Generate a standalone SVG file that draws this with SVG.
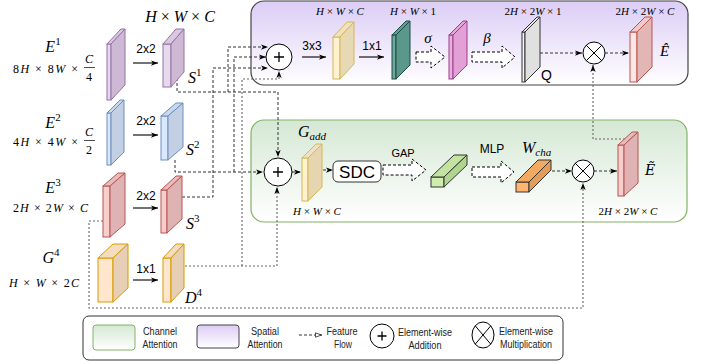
<svg xmlns="http://www.w3.org/2000/svg" width="705" height="364" viewBox="0 0 705 364">
<defs>
<linearGradient id="gP" x1="0" y1="0" x2="0" y2="1"><stop offset="0" stop-color="#dccdf6"/><stop offset="1" stop-color="#ffffff"/></linearGradient>
<linearGradient id="gG" x1="0" y1="0" x2="0" y2="1"><stop offset="0" stop-color="#d5e8d4"/><stop offset="1" stop-color="#ffffff"/></linearGradient>
<marker id="ah" viewBox="0 0 8 6" refX="8" refY="3" markerWidth="7" markerHeight="5.5" orient="auto" markerUnits="userSpaceOnUse"><path d="M0,0 L8,3 L0,6 L2,3 z" fill="#000"/></marker>
<marker id="ao" viewBox="0 0 8 6" refX="8" refY="3" markerWidth="7" markerHeight="5.5" orient="auto" markerUnits="userSpaceOnUse"><path d="M0.5,0.5 L7.5,3 L0.5,5.5 z" fill="#fff" stroke="#000" stroke-width="0.8"/></marker>
</defs>
<style>
.m{font-family:"Liberation Serif","DejaVu Serif",serif;fill:#000}
.i{font-style:italic}
.s{font-family:"Liberation Sans",Arial,sans-serif;fill:#000}
.l{font-family:"Liberation Sans",Arial,sans-serif;fill:#222;font-size:10px;text-anchor:middle}
.c{fill:none;stroke:#333;stroke-width:1;stroke-dasharray:3 2}
.d{fill:none;stroke:#666;stroke-width:1.1;stroke-dasharray:2 2}
.a{fill:none;stroke:#000;stroke-width:1.1}
.ha{fill:#fff;stroke:#000;stroke-width:1;stroke-dasharray:3 2}
.pu{stroke:#9673a6;stroke-width:1}
.bl{stroke:#6c8ebf;stroke-width:1}
.rd{stroke:#b85450;stroke-width:1}
.ye{stroke:#d6b656;stroke-width:1}
.or{stroke:#d79b00;stroke-width:1}
.op{fill:#fff;stroke:#000;stroke-width:1}
</style>

<!-- panels -->
<g id="spatial-panel"><rect x="251" y="1" width="437" height="84" rx="13" fill="url(#gP)" stroke="#444" stroke-width="1.2"/></g>
<g id="channel-panel"><rect x="251" y="120" width="436" height="102" rx="13" fill="url(#gG)" stroke="#82b366" stroke-width="1.2"/></g>

<!-- connectors -->
<g id="connectors">
<path class="c" d="M177,78 V92 H278 V157" marker-end="url(#ah)"/>
<path class="c" d="M228,92 V47 H268" marker-end="url(#ah)"/>
<path class="c" d="M175,160 V172 H263" marker-end="url(#ah)"/>
<path class="c" d="M234,172 V57 H266" marker-end="url(#ah)"/>
<path class="c" d="M182,197 H213 V68 H268" marker-end="url(#ah)"/>
<path class="d" d="M185,266 H277 V187" marker-end="url(#ah)"/>
<path class="d" d="M242,266 V79 H279 V71" marker-end="url(#ah)"/>
<path class="d" d="M103,221 H89 V308 H583 V183" marker-end="url(#ah)"/>
<path class="d" d="M625,139 H593 V65" marker-end="url(#ah)"/>
<path class="a" d="M133,63 H158" marker-end="url(#ah)"/>
<path class="a" d="M133,135 H158" marker-end="url(#ah)"/>
<path class="a" d="M133,208 H158" marker-end="url(#ah)"/>
<path class="a" d="M133,280 H158" marker-end="url(#ah)"/>
<path class="a" d="M302,57 H326" marker-end="url(#ah)"/>
<path class="a" d="M359,57 H384" marker-end="url(#ah)"/>
<path class="c" d="M540,53 H582" marker-end="url(#ah)"/>
<path class="c" d="M605,53 H629" marker-end="url(#ah)"/>
<path class="c" d="M292,172 H301" marker-end="url(#ah)"/>
<path class="c" d="M323,170 H333" marker-end="url(#ah)"/>
<path class="c" d="M552,171 H572" marker-end="url(#ah)"/>
<path class="c" d="M594,171 H617" marker-end="url(#ah)"/>
<polygon class="ha" points="416,52 431,52 431,46 445,57 431,68 431,62 416,62"/>
<polygon class="ha" points="472,52 502,52 502,46 515,57 502,68 502,62 472,62"/>
<polygon class="ha" points="383,165 412,165 412,159 426,170 412,181 412,175 383,175"/>
<polygon class="ha" points="472,167 501,167 501,161 514,172 501,183 501,177 472,177"/>
</g>

<!-- left column -->
<g id="E1">
<rect class="pu" x="107" y="44" width="4" height="56" fill="#e6d9ec"/>
<polygon class="pu" points="107,44 121,29 125,29 111,44" fill="#dac8e1"/>
<polygon class="pu" points="111,44 125,29 125,85 111,100" fill="#cdb9d4"/>
<text class="m i" x="53" y="52" font-size="16" text-anchor="middle">E<tspan font-style="normal" font-size="11" dy="-7">1</tspan></text>
<text class="m" x="13" y="73" font-size="12" textLength="65" lengthAdjust="spacing">8<tspan class="i">H</tspan> × 8<tspan class="i">W</tspan> ×</text>
<text class="m i" x="89" y="63" font-size="12" text-anchor="middle">C</text>
<line x1="84" y1="67.5" x2="95" y2="67.5" stroke="#000" stroke-width="0.7"/>
<text class="m" x="89" y="81" font-size="12" text-anchor="middle">4</text>
</g>
<g id="S1">
<rect class="pu" x="163" y="44" width="8" height="43" fill="#e6d9ec"/>
<polygon class="pu" points="163,44 176,29 184,29 171,44" fill="#dac8e1"/>
<polygon class="pu" points="171,44 184,29 184,72 171,87" fill="#cdb9d4"/>
<text class="m i" x="188" y="83" font-size="16">S<tspan font-style="normal" font-size="11" dy="-7">1</tspan></text>
<text class="s" x="146" y="53" font-size="12" text-anchor="middle">2x2</text>
</g>
<text class="m i" x="180" y="22" font-size="16" text-anchor="middle">H <tspan font-style="normal">×</tspan> W <tspan font-style="normal">×</tspan> C</text>

<g id="E2">
<rect class="bl" x="107" y="113" width="4" height="52" fill="#dae8fc"/>
<polygon class="bl" points="107,113 120,100 124,100 111,113" fill="#c9d8ee"/>
<polygon class="bl" points="111,113 124,100 124,152 111,165" fill="#c3cfe2"/>
<text class="m i" x="53" y="128" font-size="16" text-anchor="middle">E<tspan font-style="normal" font-size="11" dy="-7">2</tspan></text>
<text class="m" x="13" y="146" font-size="12" textLength="65" lengthAdjust="spacing">4<tspan class="i">H</tspan> × 4<tspan class="i">W</tspan> ×</text>
<text class="m i" x="89" y="136" font-size="12" text-anchor="middle">C</text>
<line x1="84" y1="140.5" x2="95" y2="140.5" stroke="#000" stroke-width="0.7"/>
<text class="m" x="89" y="154" font-size="12" text-anchor="middle">2</text>
</g>
<g id="S2">
<rect class="bl" x="161" y="116" width="7" height="44" fill="#dae8fc"/>
<polygon class="bl" points="161,116 176,103 183,103 168,116" fill="#c9d8ee"/>
<polygon class="bl" points="168,116 183,103 183,147 168,160" fill="#c3cfe2"/>
<text class="m i" x="186" y="155" font-size="16">S<tspan font-style="normal" font-size="11" dy="-7">2</tspan></text>
<text class="s" x="146" y="125" font-size="12" text-anchor="middle">2x2</text>
</g>

<g id="E3">
<rect class="rd" x="103" y="186" width="7" height="51" fill="#f8cecc"/>
<polygon class="rd" points="103,186 118,173 125,173 110,186" fill="#e8bcbc"/>
<polygon class="rd" points="110,186 125,173 125,224 110,237" fill="#dfb3b3"/>
<text class="m i" x="53" y="193" font-size="16" text-anchor="middle">E<tspan font-style="normal" font-size="11" dy="-7">3</tspan></text>
<text class="m" x="13" y="212" font-size="12" textLength="75" lengthAdjust="spacing">2<tspan class="i">H</tspan> × 2<tspan class="i">W</tspan> × <tspan class="i">C</tspan></text>
</g>
<g id="S3">
<rect class="rd" x="161" y="190" width="6" height="43" fill="#f8cecc"/>
<polygon class="rd" points="161,190 176,176 182,176 167,190" fill="#e8bcbc"/>
<polygon class="rd" points="167,190 182,176 182,219 167,233" fill="#dfb3b3"/>
<text class="m i" x="186" y="229" font-size="16">S<tspan font-style="normal" font-size="11" dy="-7">3</tspan></text>
<text class="s" x="146" y="200" font-size="12" text-anchor="middle">2x2</text>
</g>

<g id="G4">
<rect class="or" x="98" y="258" width="15" height="44" fill="#ffe6cc"/>
<polygon class="or" points="98,258 113,244 128,244 113,258" fill="#f4dcc0"/>
<polygon class="or" points="113,258 128,244 128,288 113,302" fill="#e6cfb5"/>
<text class="m i" x="51" y="263" font-size="16" text-anchor="middle">G<tspan font-style="normal" font-size="11" dy="-7">4</tspan></text>
<text class="m" x="9" y="287" font-size="12" textLength="70" lengthAdjust="spacing"><tspan class="i">H</tspan> × <tspan class="i">W</tspan> × 2<tspan class="i">C</tspan></text>
</g>
<g id="D4">
<rect class="or" x="163" y="258" width="8" height="44" fill="#ffe6cc"/>
<polygon class="or" points="163,258 176,244 184,244 171,258" fill="#f4dcc0"/>
<polygon class="or" points="171,258 184,244 184,288 171,302" fill="#e6cfb5"/>
<text class="m i" x="185" y="303" font-size="16">D<tspan font-style="normal" font-size="11" dy="-7">4</tspan></text>
<text class="s" x="146" y="273" font-size="12" text-anchor="middle">1x1</text>
</g>

<!-- spatial attention -->
<g id="add-top">
<circle class="op" cx="279" cy="57" r="13"/>
<path d="M274,57 H284 M279,52 V62" stroke="#000" stroke-width="1.3"/>
</g>
<g id="conv3x3">
<text class="s" x="312" y="50" font-size="12" text-anchor="middle">3x3</text>
<rect class="ye" x="333" y="37" width="7" height="42" fill="#fff2cc"/>
<polygon class="ye" points="333,37 347,22 354,22 340,37" fill="#efe2bd"/>
<polygon class="ye" points="340,37 354,22 354,64 340,79" fill="#e6d9b4"/>
<text class="m" x="340" y="15" font-size="11" text-anchor="middle"><tspan class="i">H</tspan> × <tspan class="i">W</tspan> × <tspan class="i">C</tspan></text>
</g>
<g id="conv1x1">
<text class="s" x="372" y="50" font-size="12" text-anchor="middle">1x1</text>
<rect x="392" y="35" width="4" height="44" fill="#6aab9c" stroke="#1f4b45"/>
<polygon points="392,35 406,21 410,21 396,35" fill="#5e9d90" stroke="#1f4b45"/>
<polygon points="396,35 410,21 410,65 396,79" fill="#5a988b" stroke="#1f4b45"/>
<text class="m" x="413" y="15" font-size="11" text-anchor="middle"><tspan class="i">H</tspan> × <tspan class="i">W</tspan> × 1</text>
</g>
<text class="m i" x="428" y="43" font-size="15" text-anchor="middle">σ</text>
<g id="sigmoid">
<rect x="449" y="35" width="4" height="44" fill="#eab0e0" stroke="#9c3d88"/>
<polygon points="449,35 463,21 467,21 453,35" fill="#e6a6da" stroke="#9c3d88"/>
<polygon points="453,35 467,21 467,65 453,79" fill="#e3a0d6" stroke="#9c3d88"/>
</g>
<text class="m i" x="487" y="43" font-size="15" text-anchor="middle">β</text>
<g id="Q">
<rect x="522" y="32" width="3" height="50" fill="#f5f5f5" stroke="#333"/>
<polygon points="522,32 537,17 540,17 525,32" fill="#e8e8e8" stroke="#333"/>
<polygon points="525,32 540,17 540,67 525,82" fill="#e0e0e0" stroke="#333"/>
<text class="s" x="541" y="80" font-size="14">Q</text>
<text class="m" x="533" y="15" font-size="11" text-anchor="middle">2<tspan class="i">H</tspan> × 2<tspan class="i">W</tspan> × 1</text>
</g>
<g id="mul-top">
<circle class="op" cx="594" cy="53" r="11"/>
<path d="M586.2,45.2 L601.8,60.8 M601.8,45.2 L586.2,60.8" stroke="#000" stroke-width="1"/>
</g>
<g id="E-hat">
<rect class="rd" x="630" y="32" width="7" height="50" fill="#fde6e4"/>
<polygon class="rd" points="630,32 645,17 652,17 637,32" fill="#f0caca"/>
<polygon class="rd" points="637,32 652,17 652,67 637,82" fill="#e3b6b6"/>
<text class="m" x="645" y="15" font-size="11" text-anchor="middle">2<tspan class="i">H</tspan> × 2<tspan class="i">W</tspan> × <tspan class="i">C</tspan></text>
<text class="m i" x="660" y="56" font-size="15">Ê</text>
</g>

<!-- channel attention -->
<g id="add-bottom">
<circle class="op" cx="278" cy="172" r="14"/>
<path d="M273,172 H283 M278,167 V177" stroke="#000" stroke-width="1.3"/>
</g>
<g id="G-add">
<rect class="ye" x="302" y="158" width="6" height="43" fill="#fff2cc"/>
<polygon class="ye" points="302,158 316,144 322,144 308,158" fill="#efe2bd"/>
<polygon class="ye" points="308,158 322,144 322,187 308,201" fill="#e6d6b0"/>
<text class="m i" x="298" y="137" font-size="16">G<tspan font-size="11" dy="3">add</tspan></text>
<text class="m" x="317" y="215" font-size="11" text-anchor="middle"><tspan class="i">H</tspan> × <tspan class="i">W</tspan> × <tspan class="i">C</tspan></text>
</g>
<g id="SDC">
<rect x="333" y="161" width="48" height="21" rx="5" fill="#fff" stroke="#333"/>
<text class="s" x="357" y="178" font-size="17" text-anchor="middle">SDC</text>
</g>
<text class="s" x="403" y="157" font-size="11" text-anchor="middle">GAP</text>
<g id="gap-vector">
<rect x="431" y="177" width="13" height="10" fill="#d0edb0" stroke="#333"/>
<polygon points="431,177 454,155 467,155 444,177" fill="#c2e4a0" stroke="#333"/>
<polygon points="444,177 467,155 467,165 444,187" fill="#b0d590" stroke="#333"/>
</g>
<text class="s" x="492" y="153" font-size="12" text-anchor="middle">MLP</text>
<g id="W-cha">
<rect x="516" y="182" width="13" height="10" fill="#ffb570" stroke="#333"/>
<polygon points="516,182 538,160 551,160 529,182" fill="#f2a962" stroke="#333"/>
<polygon points="529,182 551,160 551,170 529,192" fill="#e29d5a" stroke="#333"/>
<text class="m i" x="522" y="153" font-size="16">W<tspan font-size="11" dy="3">cha</tspan></text>
</g>
<g id="mul-bottom">
<circle class="op" cx="583" cy="171" r="11"/>
<path d="M575.2,163.2 L590.8,178.8 M590.8,163.2 L575.2,178.8" stroke="#000" stroke-width="1"/>
</g>
<g id="E-tilde">
<rect class="rd" x="618" y="145" width="6" height="51" fill="#f8cecc"/>
<polygon class="rd" points="618,145 632,132 638,132 624,145" fill="#e8bcbc"/>
<polygon class="rd" points="624,145 638,132 638,183 624,196" fill="#dfb3b3"/>
<text x="645" y="175" font-size="14" font-style="italic" font-family="'DejaVu Serif',serif">Ẽ</text>
<text class="m" x="628" y="215" font-size="11" text-anchor="middle">2<tspan class="i">H</tspan> × 2<tspan class="i">W</tspan> × <tspan class="i">C</tspan></text>
</g>

<!-- legend -->
<g id="legend">
<rect x="83" y="316" width="480" height="44" rx="6" fill="#fff" stroke="#333"/>
<rect x="93" y="325" width="42" height="25" rx="3" fill="url(#gG)" stroke="#82b366"/>
<text class="l" x="160" y="335" textLength="34" lengthAdjust="spacingAndGlyphs">Channel</text>
<text class="l" x="160" y="348" textLength="35" lengthAdjust="spacingAndGlyphs">Attention</text>
<rect x="197" y="325" width="42" height="23" rx="3" fill="url(#gP)" stroke="#444"/>
<text class="l" x="265" y="335" textLength="28" lengthAdjust="spacingAndGlyphs">Spatial</text>
<text class="l" x="265" y="348" textLength="35" lengthAdjust="spacingAndGlyphs">Attention</text>
<path class="c" d="M299,335 H322" marker-end="url(#ao)"/>
<text class="l" x="342" y="335" textLength="31" lengthAdjust="spacingAndGlyphs">Feature</text>
<text class="l" x="343" y="348" textLength="18" lengthAdjust="spacingAndGlyphs">Flow</text>
<circle class="op" cx="382" cy="336" r="12"/>
<path d="M377.5,336 H386.5 M382,331.5 V340.5" stroke="#000" stroke-width="1.3"/>
<text class="l" x="425" y="336" textLength="54" lengthAdjust="spacingAndGlyphs">Element-wise</text>
<text class="l" x="425" y="349" textLength="33" lengthAdjust="spacingAndGlyphs">Addition</text>
<ellipse class="op" cx="483" cy="335" rx="11" ry="13"/>
<path d="M475.2,325.8 L490.8,344.2 M490.8,325.8 L475.2,344.2" stroke="#000" stroke-width="1"/>
<text class="l" x="526" y="335" textLength="54" lengthAdjust="spacingAndGlyphs">Element-wise</text>
<text class="l" x="526" y="348" textLength="52" lengthAdjust="spacingAndGlyphs">Multiplication</text>
</g>
</svg>
